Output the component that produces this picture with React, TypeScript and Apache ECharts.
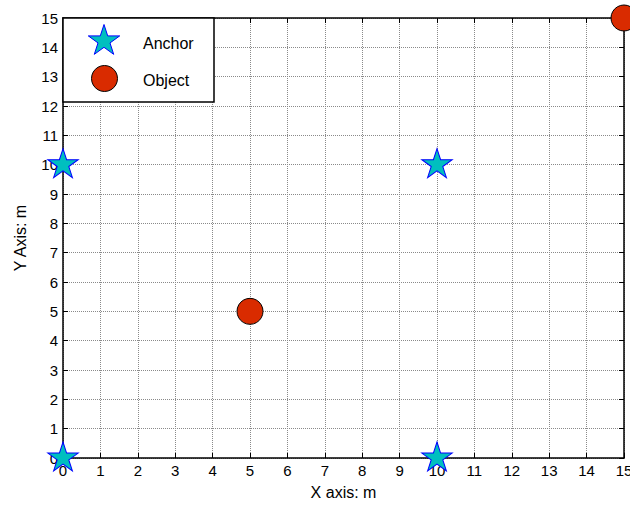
import React, { useEffect, useRef } from "react";
import * as echarts from "echarts";

const xTicks = [0, 15];
const yTicks = [0, 15];
const anchorPoints: number[][] = [
  [0, 0],
  [0, 10],
  [10, 10],
  [10, 0],
];
const objectPoints: number[][] = [
  [5, 5],
  [15, 15],
];
const seriesNames = ["Anchor", "Object"];
const axisNames = ["X axis: m", "Y Axis: m"];

const STAR_PATH =
  "path://M100,0L122.45,69.1L195.11,69.1L136.33,111.8L158.78,180.9L100,138.2L41.22,180.9L63.67,111.8L4.89,69.1L77.55,69.1Z";

const FONT = "'Liberation Sans', Arial, sans-serif";
const STAR_FILL = "#00BFBF";
const STAR_STROKE = "#0000FF";
const OBJ_FILL = "#D92B00";

function starPoints(cx: number, cy: number, r: number): number[][] {
  const pts: number[][] = [];
  for (let i = 0; i < 10; i++) {
    const rr = i % 2 === 0 ? r : r * 0.382;
    const a = ((-90 + 36 * i) * Math.PI) / 180;
    pts.push([cx + rr * Math.cos(a), cy + rr * Math.sin(a)]);
  }
  return pts;
}

export default function App() {
  const ref = useRef<HTMLDivElement>(null);
  useEffect(() => {
    if (!ref.current) return;
    const chart = echarts.init(ref.current, null, { renderer: "svg" });
    const tickCommon = {
      show: true,
      inside: true,
      length: 5,
      lineStyle: { color: "#000", width: 1 },
    };
    const lineCommon = { show: true, onZero: false, lineStyle: { color: "#000", width: 1.5 } };
    const gridLine = { show: true, lineStyle: { color: "#8a8a8a", type: [1, 1], width: 1 } };
    const r = 16;
    chart.setOption({
      animation: false,
      backgroundColor: "#fff",
      grid: {
        left: 63,
        right: 6,
        top: 18,
        bottom: 48,
        containLabel: false,
        outerBoundsMode: "none",
      },
      xAxis: [
        {
          type: "value",
          min: xTicks[0],
          max: xTicks[1],
          interval: 1,
          position: "bottom",
          name: axisNames[0],
          nameLocation: "middle",
          nameGap: 26,
          nameTextStyle: { fontFamily: FONT, fontSize: 16, color: "#000" },
          axisLine: lineCommon,
          axisTick: tickCommon,
          axisLabel: { fontFamily: FONT, fontSize: 15, color: "#000", margin: 5 },
          splitLine: gridLine,
        },
        {
          type: "value",
          min: xTicks[0],
          max: xTicks[1],
          interval: 1,
          position: "top",
          axisLine: lineCommon,
          axisTick: tickCommon,
          axisLabel: { show: false },
          splitLine: { show: false },
        },
      ],
      yAxis: [
        {
          type: "value",
          min: yTicks[0],
          max: yTicks[1],
          interval: 1,
          position: "left",
          name: axisNames[1],
          nameLocation: "middle",
          nameGap: 35,
          nameRotate: 90,
          nameTextStyle: { fontFamily: FONT, fontSize: 16, color: "#000" },
          axisLine: lineCommon,
          axisTick: tickCommon,
          axisLabel: { fontFamily: FONT, fontSize: 15, color: "#000", margin: 5 },
          splitLine: gridLine,
        },
        {
          type: "value",
          min: yTicks[0],
          max: yTicks[1],
          interval: 1,
          position: "right",
          axisLine: lineCommon,
          axisTick: tickCommon,
          axisLabel: { show: false },
          splitLine: { show: false },
        },
      ],
      series: [
        {
          name: seriesNames[0],
          type: "scatter",
          data: anchorPoints,
          clip: false,
          symbol: STAR_PATH,
          symbolSize: [1.902 * r, 1.809 * r],
          symbolOffset: [0, -0.0955 * r],
          itemStyle: { color: STAR_FILL, borderColor: STAR_STROKE, borderWidth: 1, opacity: 1 },
          z: 5,
        },
        {
          name: seriesNames[1],
          type: "scatter",
          data: objectPoints,
          clip: false,
          symbol: "circle",
          symbolSize: 26,
          itemStyle: { color: OBJ_FILL, borderColor: "#000", borderWidth: 1, opacity: 1 },
          z: 5,
        },
      ],
      graphic: [
        {
          type: "rect",
          z: 100,
          shape: { x: 63, y: 18, width: 151, height: 84 },
          style: { fill: "#fff", stroke: "#000", lineWidth: 1.5 },
        },
        {
          type: "polygon",
          z: 101,
          shape: { points: starPoints(104, 41, 16.5) },
          style: { fill: STAR_FILL, stroke: STAR_STROKE, lineWidth: 1 },
        },
        {
          type: "circle",
          z: 101,
          shape: { cx: 104.5, cy: 78.5, r: 13 },
          style: { fill: OBJ_FILL, stroke: "#000", lineWidth: 1 },
        },
        {
          type: "text",
          z: 101,
          x: 143,
          y: 43,
          style: {
            text: seriesNames[0],
            fontFamily: FONT,
            fontSize: 16,
            fill: "#000",
            verticalAlign: "middle",
            align: "left",
          },
        },
        {
          type: "text",
          z: 101,
          x: 143,
          y: 80,
          style: {
            text: seriesNames[1],
            fontFamily: FONT,
            fontSize: 16,
            fill: "#000",
            verticalAlign: "middle",
            align: "left",
          },
        },
      ],
    });
    return () => chart.dispose();
  }, []);
  return (
    <div
      ref={ref}
      style={{ position: "fixed", left: 0, top: 0, width: 630, height: 506 }}
    />
  );
}
